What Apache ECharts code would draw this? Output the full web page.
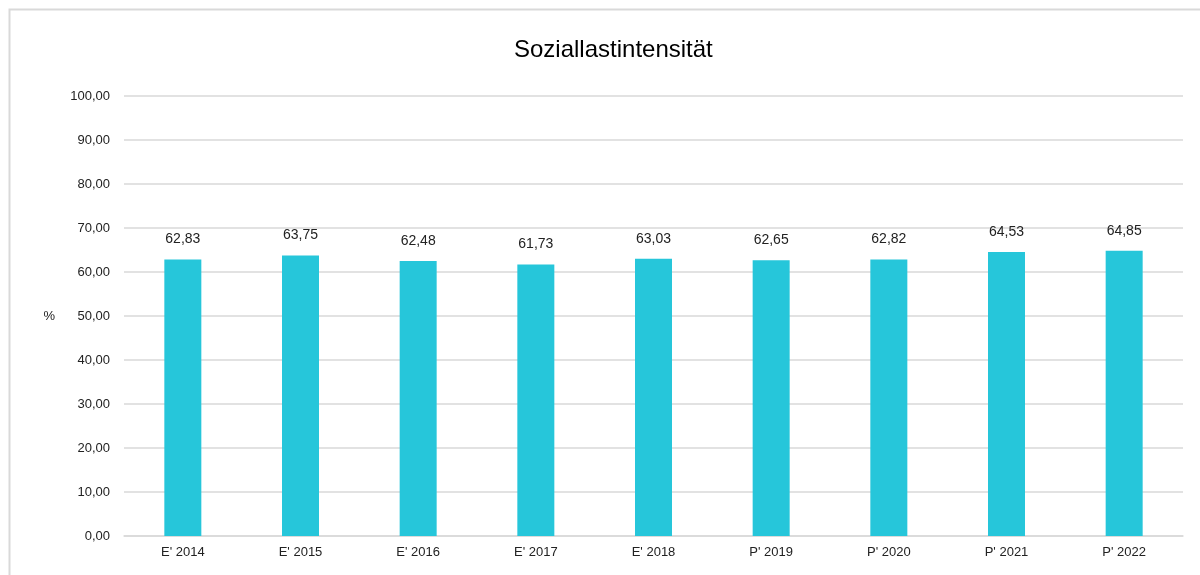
<!DOCTYPE html>
<html>
<head>
<meta charset="utf-8">
<script src="https://cdn.jsdelivr.net/npm/echarts@6/dist/echarts.min.js"></script>
<style>
  html, body { margin: 0; padding: 0; background: #fff; }
  #chart { width: 1200px; height: 575px; }
</style>
</head>
<body>
<div id="chart"></div>
<script>
var jahre = ["E' 2014", "E' 2015", "E' 2016", "E' 2017", "E' 2018", "P' 2019", "P' 2020", "P' 2021", "P' 2022"];
var werte = [62.83, 63.75, 62.48, 61.73, 63.03, 62.65, 62.82, 64.53, 64.85];

function komma(v) {
    return v.toFixed(2).replace('.', ',');
}

var myChart = echarts.init(document.getElementById('chart'));
var option = {
    animation: false,
    textStyle: { fontFamily: 'Liberation Sans, Arial, sans-serif' },
    title: {
        text: 'Soziallastintensität',
        left: 509,
        top: 33,
        textStyle: { fontSize: 24, fontWeight: 'normal', color: '#000' }
    },
    graphic: [{
        type: 'rect',
        shape: { x: 9.5, y: 9.5, width: 1200, height: 600 },
        style: { fill: 'none', stroke: '#d9d9d9', lineWidth: 2 }
    }],
    grid: { left: 124, right: 17, top: 96, bottom: 39 },
    xAxis: {
        type: 'category',
        data: jahre,
        axisLine: { lineStyle: { color: '#d9d9d9', width: 1.5 } },
        axisTick: { show: false },
        axisLabel: { color: '#222', fontSize: 13, margin: 10 }
    },
    yAxis: {
        type: 'value',
        min: 0,
        max: 100,
        interval: 10,
        name: '%',
        nameLocation: 'middle',
        nameRotate: 0,
        nameGap: 69,
        nameTextStyle: { color: '#222', fontSize: 13 },
        axisLabel: {
            color: '#222',
            fontSize: 13,
            margin: 14,
            formatter: function (v) { return komma(v); }
        },
        splitLine: { lineStyle: { color: '#d9d9d9', width: 1.5 } }
    },
    series: [{
        name: 'Soziallastintensität',
        type: 'bar',
        data: werte,
        barWidth: 37,
        itemStyle: { color: '#26C6DA' },
        label: {
            show: true,
            position: 'top',
            distance: 13,
            color: '#222',
            fontSize: 14,
            formatter: function (p) { return komma(p.value); }
        }
    }]
};
myChart.setOption(option);
</script>
</body>
</html>
